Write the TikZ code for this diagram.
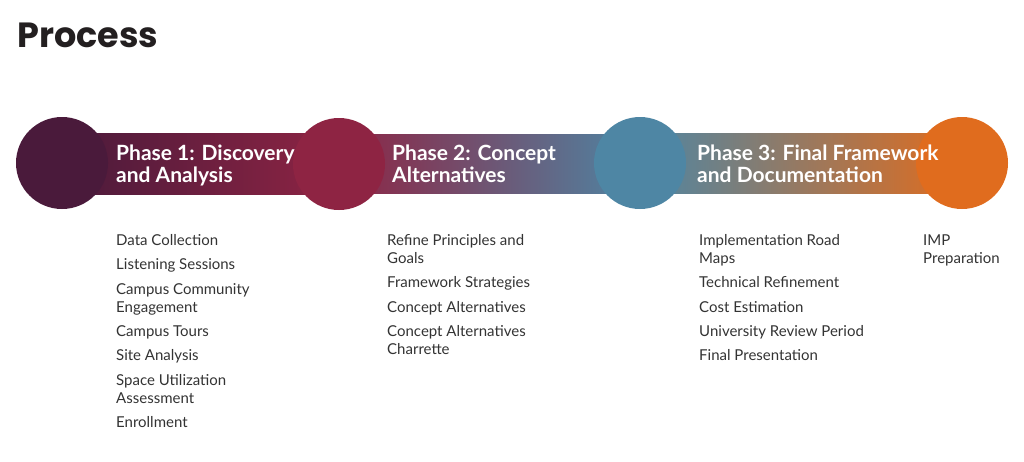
\documentclass[tikz,border=0pt]{standalone}
\usepackage{fontspec}
\setmainfont{Lato}
\newfontfamily\titlefont{Poppins}
\usetikzlibrary{calc}

\definecolor{plum}{HTML}{4A1A3B}
\definecolor{crimson}{HTML}{8E2443}
\definecolor{steel}{HTML}{4E86A4}
\definecolor{amber}{HTML}{E06C1E}
\definecolor{ink}{HTML}{231F20}
\definecolor{textgray}{HTML}{333333}

\tikzset{
  dot/.style={circle, inner sep=0pt, minimum size=92pt},
  phase/.style={anchor=base west, align=left, text=white, inner sep=0pt,
    font=\bfseries\fontsize{21}{22}\selectfont},
  steps/.style={anchor=base west, align=left, text=textgray, inner sep=0pt,
    font=\fontsize{15}{18}\selectfont},
}

\begin{document}
\begin{tikzpicture}[x=1pt, y=-1pt]
\useasboundingbox (0,0) rectangle (1024,461);

\node[anchor=base west, inner sep=0pt, text=ink, font=\titlefont\bfseries\fontsize{35}{40}\selectfont] (title) at (17,47) {Process};

% circles
\coordinate (c1) at (62,163);
\coordinate (c2) at (339,164);
\coordinate (c3) at (640,163);
\coordinate (c4) at (962,163);

% band
\shade[left color=plum, right color=crimson] ($(c1)+(0,-30)$) rectangle ($(c2)+(0,30)$);
\shade[left color=crimson, right color=steel] ($(c2)+(0,-30)$) rectangle ($(c3)+(0,30)$);
\shade[left color=steel, right color=amber] ($(c3)+(0,-30)$) rectangle ($(c4)+(0,30)$);

\node[dot, fill=plum] (p1) at (c1) {};
\node[dot, fill=crimson] (p2) at (c2) {};
\node[dot, fill=steel] (p3) at (c3) {};
\node[dot, fill=amber] (p4) at (c4) {};

% phase labels (anchored at the last line)
\node[phase] (t1) at (116,182) {Phase 1: Discovery\\and Analysis};
\node[phase] (t2) at (392,182) {Phase 2: Concept\\Alternatives};
\node[phase] (t3) at (697,182) {Phase 3: Final Framework\\and Documentation};

% step lists (anchored at the last line)
\node[steps] (s1) at (116,427.3) {Data Collection\\[6.3pt]Listening Sessions\\[6.3pt]Campus Community\\Engagement\\[6.3pt]Campus Tours\\[6.3pt]Site Analysis\\[6.3pt]Space Utilization\\Assessment\\[6.3pt]Enrollment};
\node[steps] (s2) at (387,354.4) {Refine Principles and\\Goals\\[6.3pt]Framework Strategies\\[6.3pt]Concept Alternatives\\[6.3pt]Concept Alternatives\\Charrette};
\node[steps] (s3) at (699,360.7) {Implementation Road\\Maps\\[6.3pt]Technical Refinement\\[6.3pt]Cost Estimation\\[6.3pt]University Review Period\\[6.3pt]Final Presentation};
\node[steps] (s4) at (923,263.5) {IMP\\Preparation};
\end{tikzpicture}
\end{document}
